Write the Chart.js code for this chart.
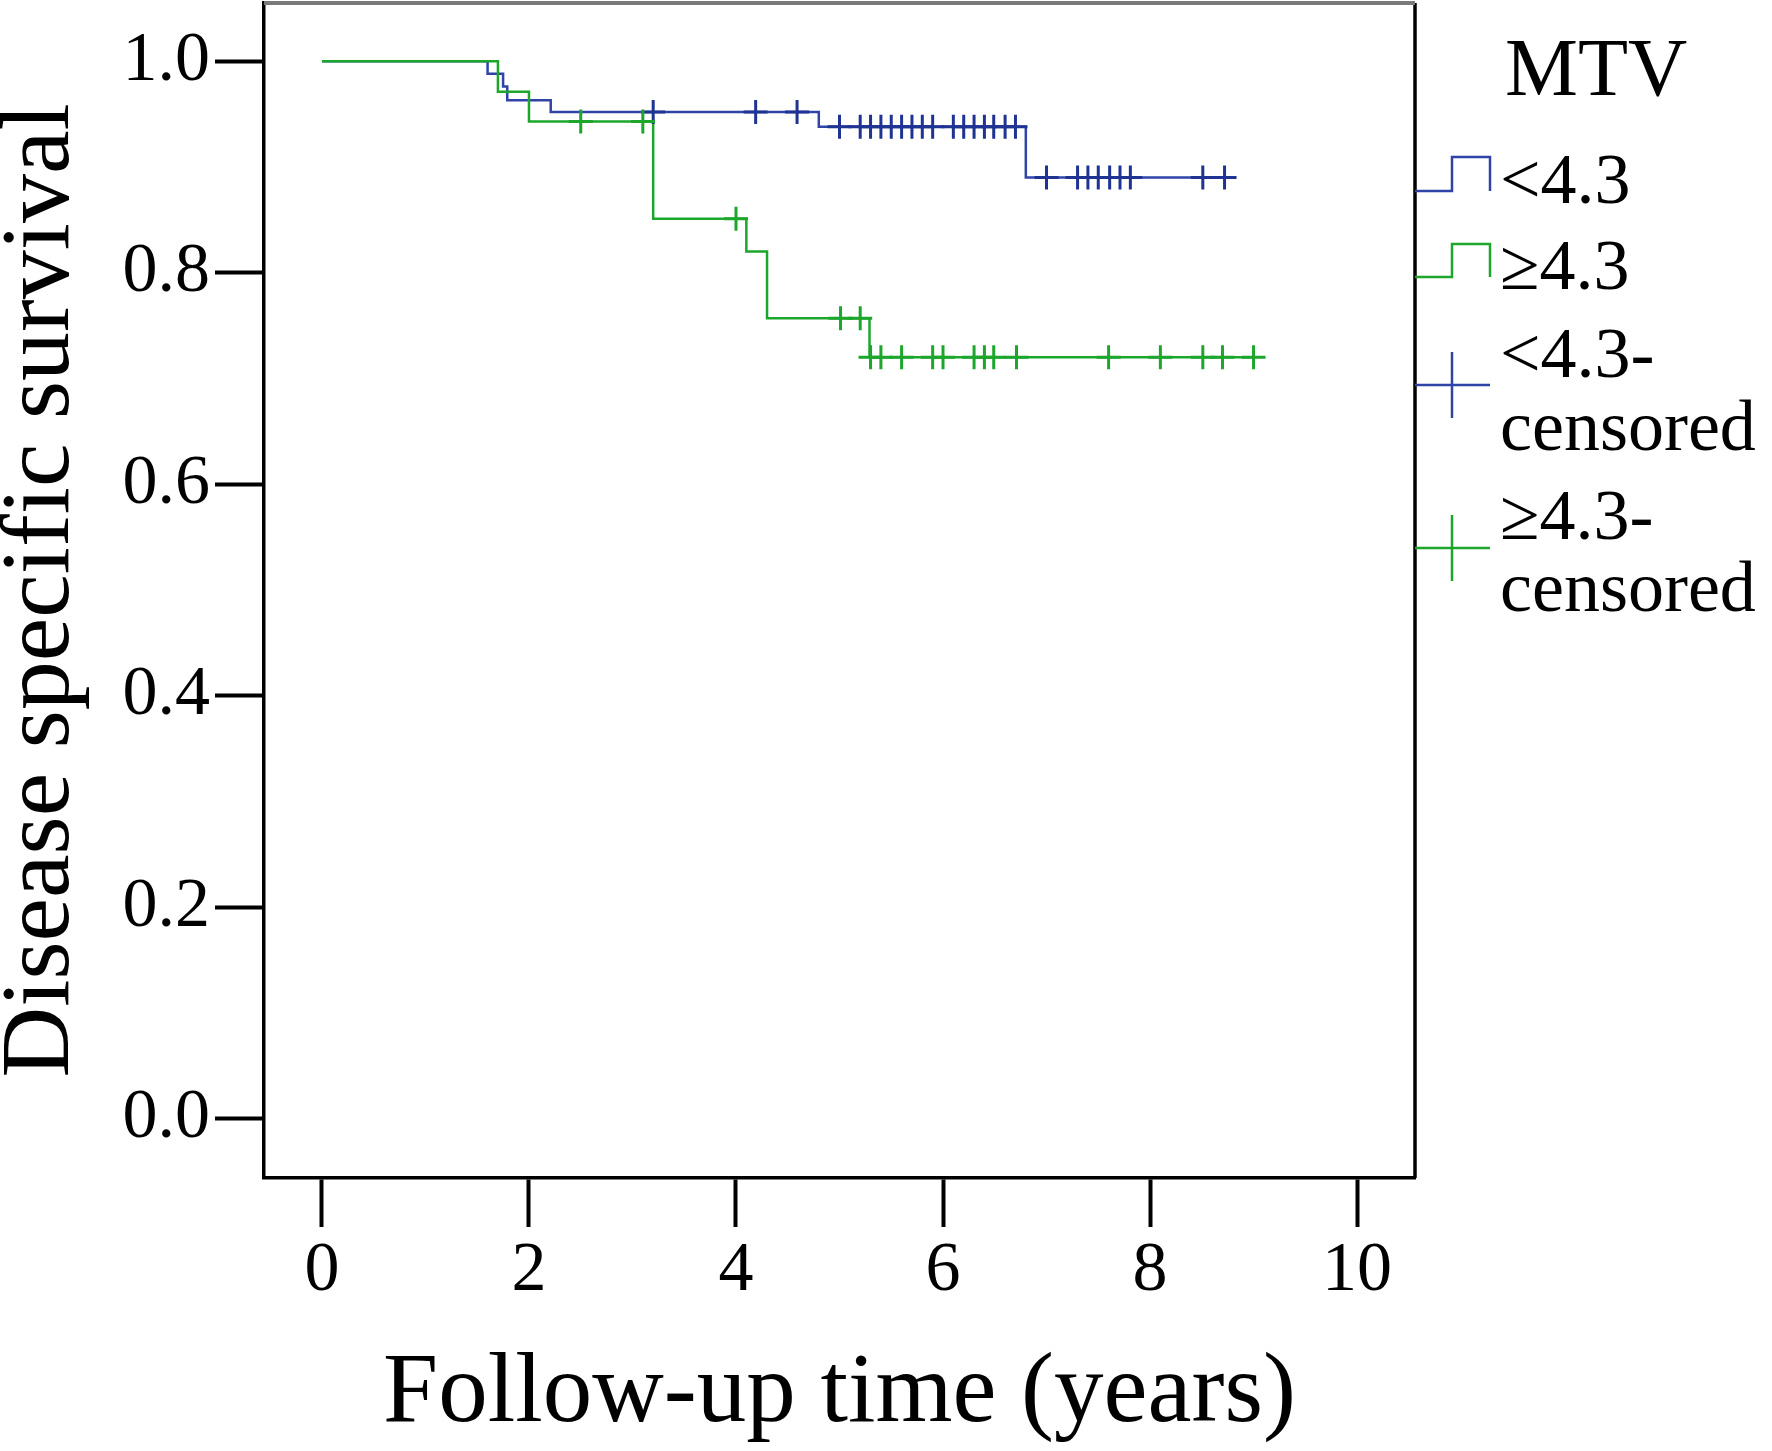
<!DOCTYPE html>
<html>
<head>
<meta charset="utf-8">
<script src="https://cdn.jsdelivr.net/npm/chart.js@4.4.1/dist/chart.umd.min.js"></script>
<style>
    html, body { margin: 0; padding: 0; background: #fff; }
    #wrap { width: 1772px; height: 1451px; position: relative; }
</style>
</head>
<body>
<div id="wrap"><canvas id="km"></canvas></div>
<script>
// Kaplan-Meier steps: time of event (years) and survival after it
const lowTimes = [0, 1.60, 1.75, 1.79, 2.21, 4.80, 6.80];
const lowSurv = [1.0, 0.988, 0.976, 0.963, 0.952, 0.938, 0.890];
const lowCensored = [3.20, 4.19, 4.59,
    5.00, 5.20, 5.30, 5.40, 5.50, 5.60, 5.70, 5.80, 5.90,
    6.10, 6.20, 6.30, 6.40, 6.49, 6.60, 6.70,
    7.00, 7.30, 7.40, 7.50, 7.61, 7.71, 7.81, 8.51, 8.72];

const highTimes = [0, 1.70, 2.00, 3.20, 4.10, 4.30, 5.29];
const highSurv = [1.0, 0.971, 0.943, 0.851, 0.820, 0.757, 0.720];
const highCensored = [2.50, 3.10, 4.00, 5.01, 5.20,
    5.30, 5.40, 5.60, 5.90, 6.00, 6.30, 6.40, 6.49, 6.71,
    7.60, 8.10, 8.51, 8.70, 9.00];

const xTicks = [0, 2, 4, 6, 8, 10];
const yTicks = [0.0, 0.2, 0.4, 0.6, 0.8, 1.0];

const legendTitle = "MTV";
const legendLines = [["<4.3"], ["\u22654.3"], ["<4.3-", "censored"], ["\u22654.3-", "censored"]];

const BLUE = "#2f44a6";
const BLUE_DARK = "#1f3393";
const GREEN = "#1ca62c";
const SERIF = "'Liberation Serif', 'Times New Roman', serif";

function survAt(times, surv, t) {
    let s = surv[0];
    for (let i = 0; i < times.length; i++) {
        if (times[i] <= t) s = surv[i];
    }
    return s;
}

function curve(times, surv, censored) {
    const pts = times.map((t, i) => ({ x: t, y: surv[i] }));
    const end = censored[censored.length - 1];
    pts.push({ x: end, y: surv[surv.length - 1] });
    return pts;
}

function marks(times, surv, censored) {
    return censored.map(t => ({ x: t, y: survAt(times, surv, t) }));
}

// right/top frame and the SPSS-like legend
const framePlugin = {
    id: "frame",
    afterDraw(chart) {
        const ctx = chart.ctx;
        const a = chart.chartArea;
        ctx.save();
        ctx.strokeStyle = "#000";
        ctx.lineWidth = 3.5;
        ctx.beginPath();
        ctx.moveTo(a.right, a.top);
        ctx.lineTo(a.right, a.bottom);
        ctx.stroke();
        ctx.strokeStyle = "#7a7a7a";
        ctx.lineWidth = 4;
        ctx.beginPath();
        ctx.moveTo(a.left, a.top);
        ctx.lineTo(a.right, a.top);
        ctx.stroke();

        const x0 = a.right;
        ctx.fillStyle = "#000";
        ctx.textBaseline = "alphabetic";
        ctx.font = "82px " + SERIF;
        ctx.fillText(legendTitle, x0 + 90, 95);

        ctx.font = "72px " + SERIF;
        ctx.lineWidth = 2.5;
        // step icons
        [[BLUE, 191, 157], [GREEN, 277, 244]].forEach(([c, lo, hi]) => {
            ctx.strokeStyle = c;
            ctx.beginPath();
            ctx.moveTo(x0, lo);
            ctx.lineTo(x0 + 37, lo);
            ctx.lineTo(x0 + 37, hi);
            ctx.lineTo(x0 + 75, hi);
            ctx.lineTo(x0 + 75, lo);
            ctx.stroke();
        });
        // cross icons
        [[BLUE, 385], [GREEN, 548]].forEach(([c, y]) => {
            ctx.strokeStyle = c;
            ctx.beginPath();
            ctx.moveTo(x0, y);
            ctx.lineTo(x0 + 75, y);
            ctx.moveTo(x0 + 37, y - 33);
            ctx.lineTo(x0 + 37, y + 33);
            ctx.stroke();
        });
        const baselines = [[203], [289], [377, 450], [539, 611]];
        legendLines.forEach((lines, i) => {
            lines.forEach((txt, j) => ctx.fillText(txt, x0 + 85, baselines[i][j]));
        });
        ctx.restore();
    }
};

const ctx = document.getElementById("km").getContext("2d");
new Chart(ctx, {
    type: "scatter",
    data: {
        datasets: [
            {
                label: "\u22654.3-censored",
                data: marks(highTimes, highSurv, highCensored),
                pointStyle: "cross",
                pointRadius: 12,
                borderColor: GREEN,
                borderWidth: 3,
                order: 0
            },
            {
                label: "<4.3-censored",
                data: marks(lowTimes, lowSurv, lowCensored),
                pointStyle: "cross",
                pointRadius: 12,
                borderColor: BLUE_DARK,
                borderWidth: 3,
                order: 1
            },
            {
                label: "\u22654.3",
                data: curve(highTimes, highSurv, highCensored),
                showLine: true,
                stepped: true,
                borderColor: GREEN,
                borderWidth: 2.5,
                pointRadius: 0,
                order: 2
            },
            {
                label: "<4.3",
                data: curve(lowTimes, lowSurv, lowCensored),
                showLine: true,
                stepped: true,
                borderColor: BLUE,
                borderWidth: 2.5,
                pointRadius: 0,
                order: 3
            }
        ]
    },
    options: {
        responsive: true,
        maintainAspectRatio: false,
        animation: false,
        devicePixelRatio: 1,
        layout: { autoPadding: false, padding: { left: 0, top: 3, right: 357, bottom: 0 } },
        plugins: {
            legend: { display: false },
            tooltip: { enabled: false }
        },
        scales: {
            x: {
                type: "linear",
                min: -0.56,
                max: 10.56,
                afterBuildTicks: scale => { scale.ticks = xTicks.map(v => ({ value: v })); },
                afterFit: scale => {
                    scale.height = 273;
                    scale.paddingLeft = 0;
                    scale.paddingRight = 0;
                },
                border: { display: true, color: "#000", width: 3.5 },
                grid: { drawOnChartArea: false, tickLength: 49, tickColor: "#000", tickWidth: 4 },
                ticks: {
                    color: "#000",
                    padding: 3,
                    maxRotation: 0,
                    font: { family: SERIF, size: 70 }
                },
                title: {
                    display: true,
                    text: "Follow-up time (years)",
                    color: "#000",
                    font: { family: SERIF, size: 99, lineHeight: 1 },
                    padding: { top: 0, bottom: 7 }
                }
            },
            y: {
                type: "linear",
                min: -0.056,
                max: 1.055,
                afterBuildTicks: scale => { scale.ticks = yTicks.map(v => ({ value: v })); },
                afterFit: scale => {
                    scale.width = 264;
                    scale.paddingTop = 0;
                    scale.paddingBottom = 0;
                },
                border: { display: true, color: "#000", width: 3.5 },
                grid: { drawOnChartArea: false, tickLength: 49, tickColor: "#000", tickWidth: 4 },
                ticks: {
                    color: "#000",
                    padding: 5,
                    font: { family: SERIF, size: 70 },
                    callback: v => v.toFixed(1)
                },
                title: {
                    display: true,
                    text: "Disease specific survival",
                    color: "#000",
                    font: { family: SERIF, size: 98, lineHeight: 0.86 },
                    padding: { top: 0, bottom: 0 }
                }
            }
        }
    },
    plugins: [framePlugin]
});
</script>
</body>
</html>
